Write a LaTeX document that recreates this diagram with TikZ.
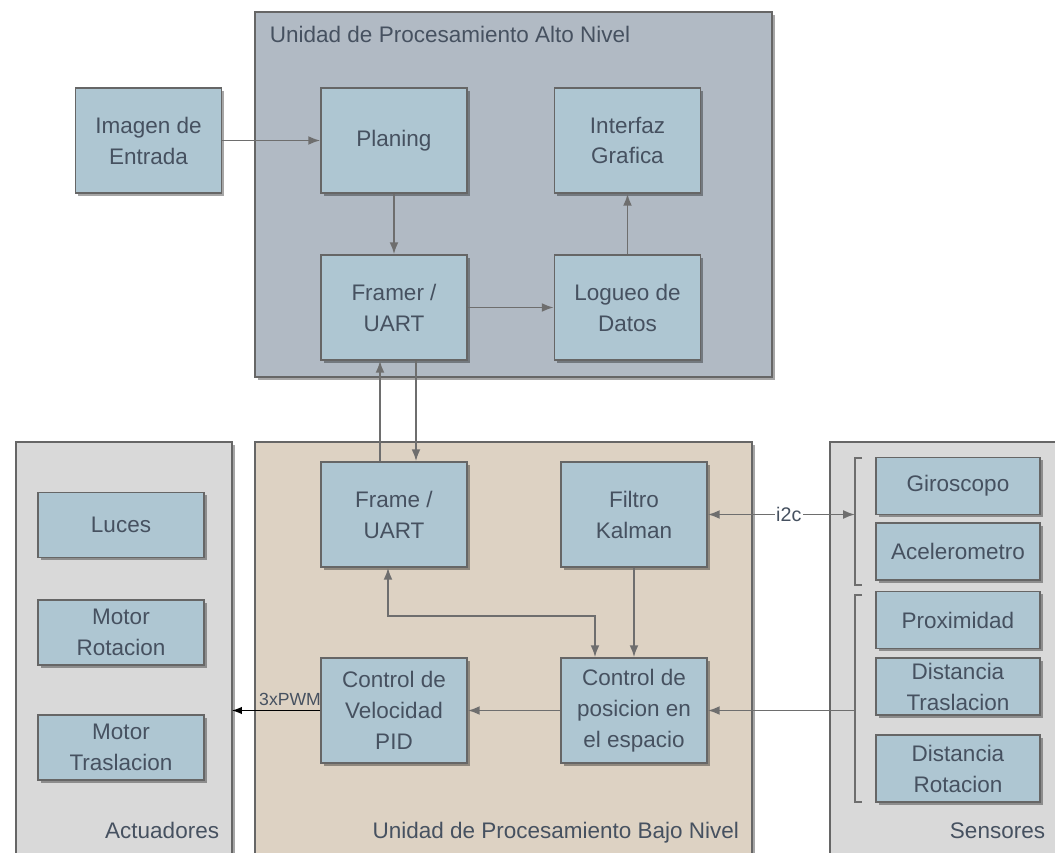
\documentclass[tikz,border=0pt]{standalone}
\usepackage{fontspec}
\setmainfont{Liberation Sans}
\usetikzlibrary{arrows.meta,shadows}

\definecolor{altoGris}{HTML}{B1BAC4}
\definecolor{bajoBeige}{HTML}{DDD2C3}
\definecolor{panelGris}{HTML}{D9D9D9}
\definecolor{cajaAzul}{HTML}{AEC6D2}
\definecolor{bordeGris}{HTML}{666666}
\definecolor{flechaGris}{HTML}{6E6E6E}
\definecolor{textoGris}{HTML}{465160}

\begin{document}
\begin{tikzpicture}[x=0.025cm, y=-0.025cm, >=Latex,
    every node/.style={font=\fontsize{16}{22}\selectfont, text=textoGris},
    sombra/.style={drop shadow={shadow xshift=2pt, shadow yshift=-2pt, opacity=0.35, fill=black}},
    unidad/.style={draw=bordeGris, line width=1.2pt, sombra},
    bloque/.style={draw=bordeGris, fill=cajaAzul, line width=1.2pt, align=center,
      minimum width=3.65cm, minimum height=2.625cm, inner sep=2pt, sombra},
    actuador/.style={bloque, minimum width=4.15cm, minimum height=1.625cm},
    sensor/.style={bloque, minimum width=4.1cm, minimum height=1.425cm},
    flecha/.style={->, draw=flechaGris, line width=1.2pt},
    llave/.style={draw=flechaGris, line width=1.2pt},
    etiqueta/.style={font=\fontsize{14}{16}\selectfont, fill=white, inner sep=1pt}
  ]
    \useasboundingbox (0,0) rectangle (1055,853);

    % Unidades (fondos)
    \draw[unidad, fill=altoGris] (255,12) rectangle (772,377);
    \draw[unidad, fill=panelGris] (16,442) rectangle (232,870);
    \draw[unidad, fill=bajoBeige] (255,442) rectangle (752,870);
    \draw[unidad, fill=panelGris] (830,442) rectangle (1070,870);

    \node[anchor=base west] (tAlto) at (265,43) {Unidad de Procesamiento Alto Nivel};
    \node[anchor=base east] (tAct) at (224,838) {Actuadores};
    \node[anchor=base east] (tBajo) at (744,838) {Unidad de Procesamiento Bajo Nivel};
    \node[anchor=base east] (tSens) at (1050,838) {Sensores};

    % Alto nivel
    \node[bloque] (img) at (148.5,140.5) {Imagen de\\Entrada};
    \node[bloque] (plan) at (394,140.5) {Planing};
    \node[bloque] (gui) at (627.5,140.5) {Interfaz\\Grafica};
    \node[bloque] (framer) at (394,307.5) {Framer /\\UART};
    \node[bloque] (logueo) at (627.5,307.5) {Logueo de\\Datos};

    % Bajo nivel
    \node[bloque] (frame) at (394,514.5) {Frame /\\UART};
    \node[bloque] (kalman) at (634,514.5) {Filtro\\Kalman};
    \node[bloque] (pid) at (394,710.5) {Control de\\Velocidad\\PID};
    \node[bloque] (pos) at (634,710.5) {Control de\\posicion en\\el espacio};

    % Actuadores
    \node[actuador] (luces) at (121,525) {Luces};
    \node[actuador] (mrot) at (121,632.5) {Motor\\Rotacion};
    \node[actuador] (mtras) at (121,747.5) {Motor\\Traslacion};

    % Sensores
    \node[sensor] (giro) at (958,486) {Giroscopo};
    \node[sensor] (acel) at (958,551.5) {Acelerometro};
    \node[sensor] (prox) at (958,620) {Proximidad};
    \node[sensor] (dtras) at (958,686.5) {Distancia\\Traslacion};
    \node[sensor, minimum height=1.675cm] (drot) at (958,768.5) {Distancia\\Rotacion};

    % Llaves de los sensores
    \draw[llave] (862,458) -- (855,458) -- (855,585) -- (862,585);
    \draw[llave] (862,595) -- (855,595) -- (855,802) -- (862,802);
    \coordinate (imu) at (855,514.5);
    \coordinate (dist) at (855,710.5);
    \coordinate (salida) at (232,710.5);

    % Conexiones
    \draw[flecha] (img) -- (plan);
    \draw[flecha] (plan) -- (framer);
    \draw[flecha] (framer) -- (logueo);
    \draw[flecha] (logueo) -- (gui);
    \draw[flecha] ([xshift=-0.35cm]frame.north) -- ([xshift=-0.35cm]framer.south);
    \draw[flecha] ([xshift=0.55cm]framer.south) -- ([xshift=0.55cm]frame.north);
    \draw[flecha, <->] ([xshift=-0.15cm]frame.south) -- ++(0,-1.2cm) -| ([xshift=-0.975cm]pos.north);
    \draw[flecha] (kalman) -- (pos);
    \draw[flecha] (pos) -- (pid);
    \draw[flecha, <->] (kalman) -- (imu) node[etiqueta, pos=0.55] (i2c) {i2c};
    \draw[flecha] (dist) -- (pos);
    \draw[->, line width=0.9pt, black] (pid) -- (salida);
    \node[font=\fontsize{12.5}{14}\selectfont] (pwm) at (290,699) {3xPWM};
  \end{tikzpicture}
\end{document}
